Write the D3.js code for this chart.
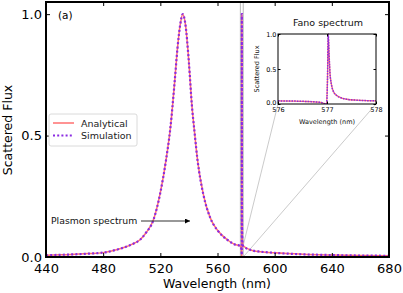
<!DOCTYPE html>
<html>
<head>
<meta charset="utf-8">
<script src="https://cdn.jsdelivr.net/npm/d3@7"></script>
<style>
  body { margin: 0; background: #fff; }
  text { font-family: "DejaVu Sans", sans-serif; }
</style>
</head>
<body>
<svg id="chart" width="403" height="293"></svg>
<script>
// plasmon spectrum (broad peak)
const plasmonNm = [440, 450, 460, 470, 480, 490, 495, 500, 506, 510, 515, 520, 524, 527, 530, 532, 534, 535.7, 537.5, 540, 542, 544, 546, 550, 555, 560, 567, 572, 576, 585, 590, 600, 620, 640, 660, 680];
const plasmonFlux = [0.007, 0.009, 0.011, 0.014, 0.018, 0.031, 0.040, 0.052, 0.072, 0.100, 0.150, 0.265, 0.400, 0.530, 0.720, 0.860, 0.960, 1.000, 0.960, 0.800, 0.630, 0.510, 0.400, 0.260, 0.160, 0.110, 0.070, 0.052, 0.043, 0.026, 0.022, 0.017, 0.011, 0.008, 0.006, 0.005];

// fano resonance around 577 nm (inset)
const fanoNm = [576.0, 576.3, 576.6, 576.8, 576.9, 576.96, 576.99, 577.01, 577.025, 577.04, 577.06, 577.09, 577.13, 577.2, 577.3, 577.4, 577.6, 577.8, 578.0];
const fanoFlux = [0.045, 0.042, 0.036, 0.028, 0.018, 0.003, 0.0, 0.35, 1.0, 0.75, 0.45, 0.28, 0.18, 0.12, 0.085, 0.068, 0.055, 0.048, 0.045];

const xTicks = [440, 480, 520, 560, 600, 640, 680];
const yTicks = [0, 0.5, 1.0];
const insetXTicks = [576, 577, 578];
const insetYTicks = [0, 0.5, 1.0];
const seriesNames = ["Analytical", "Simulation"];

const redCol = "#ff6f6f", purpleCol = "#8a2be2";

const svg = d3.select("#chart");

// main axes
const L = 46, R = 389, T = 2, B = 257;
const x = d3.scaleLinear().domain([440, 680]).range([L, R]);
const y = d3.scaleLinear().domain([0, 1.05]).range([B, T]);

// combined spectrum = plasmon outside the zoom window + fano inside
let mainData = plasmonNm.map((d, i) => [d, plasmonFlux[i]]).filter(d => d[0] < 576 || d[0] > 578);
mainData = mainData.concat(fanoNm.map((d, i) => [d, fanoFlux[i]]));
mainData.sort((a, b) => a[0] - b[0]);

svg.append("defs").append("clipPath").attr("id", "mainClip")
  .append("rect").attr("x", L).attr("y", T).attr("width", R - L).attr("height", B - T);

// zoom indicator rectangle + connector lines
svg.append("rect")
  .attr("x", x(576)).attr("y", y(1.05))
  .attr("width", x(578) - x(576)).attr("height", y(0) - y(1.05))
  .attr("fill", "none").attr("stroke", "#b8b8b8").attr("stroke-width", 1);

const inL = 278, inR = 376, inT = 34, inB = 104;

svg.append("line").attr("x1", inL).attr("y1", inB).attr("x2", x(576)).attr("y2", y(0))
  .attr("stroke", "#bdbdbd").attr("stroke-width", 0.8);
svg.append("line").attr("x1", inR).attr("y1", inB).attr("x2", x(578)).attr("y2", y(0))
  .attr("stroke", "#bdbdbd").attr("stroke-width", 0.8);

const line = d3.line().x(d => x(d[0])).y(d => y(d[1])).curve(d3.curveMonotoneX);

const plotG = svg.append("g").attr("clip-path", "url(#mainClip)");
plotG.append("path").datum(mainData).attr("d", line)
  .attr("fill", "none").attr("stroke", redCol).attr("stroke-width", 1.5);
plotG.append("path").datum(mainData).attr("d", line)
  .attr("fill", "none").attr("stroke", purpleCol).attr("stroke-width", 2.2)
  .attr("stroke-dasharray", "2,2.2");

// axes, ticks inward on all sides
const fs = 13;
svg.append("g").attr("transform", `translate(0,${B})`)
  .call(d3.axisBottom(x).tickValues(xTicks).tickSize(-4).tickPadding(7).tickFormat(d3.format("d")))
  .call(g => g.select(".domain").remove())
  .call(g => g.selectAll("text").attr("font-size", fs).attr("fill", "#000").attr("font-family", "DejaVu Sans"));
svg.append("g").attr("transform", `translate(0,${T})`)
  .call(d3.axisTop(x).tickValues(xTicks).tickSize(-4).tickFormat(""))
  .call(g => g.select(".domain").remove());
svg.append("g").attr("transform", `translate(${L},0)`)
  .call(d3.axisLeft(y).tickValues(yTicks).tickSize(-4).tickPadding(4).tickFormat(d3.format(".1f")))
  .call(g => g.select(".domain").remove())
  .call(g => g.selectAll("text").attr("font-size", fs).attr("fill", "#000").attr("font-family", "DejaVu Sans"));
svg.append("g").attr("transform", `translate(${R},0)`)
  .call(d3.axisRight(y).tickValues(yTicks).tickSize(-4).tickFormat(""))
  .call(g => g.select(".domain").remove());

svg.append("rect").attr("x", L).attr("y", T).attr("width", R - L).attr("height", B - T)
  .attr("fill", "none").attr("stroke", "#000").attr("stroke-width", 2);

svg.append("text").attr("x", (L + R) / 2 - 0.5).attr("y", 288).attr("text-anchor", "middle")
  .attr("font-size", 12.5).text("Wavelength (nm)");
svg.append("text").attr("transform", `translate(12,130) rotate(-90)`).attr("text-anchor", "middle")
  .attr("font-size", 12.5).text("Scattered Flux");

svg.append("text").attr("x", 58).attr("y", 19).attr("font-size", 10.5).text("(a)");

// legend
const leg = svg.append("g");
leg.append("rect").attr("x", 49).attr("y", 114).attr("width", 88).attr("height", 32).attr("rx", 2)
  .attr("fill", "#fff").attr("stroke", "#d0d0d0").attr("stroke-width", 0.8);
seriesNames.forEach((name, i) => {
  const ly = 123 + i * 12.5;
  leg.append("line").attr("x1", 53).attr("x2", 74).attr("y1", ly).attr("y2", ly)
    .attr("stroke", i === 0 ? redCol : purpleCol)
    .attr("stroke-width", i === 0 ? 1.5 : 2.2)
    .attr("stroke-dasharray", i === 0 ? null : "2,2.2");
  leg.append("text").attr("x", 81).attr("y", ly + 3.5).attr("font-size", 9.5).attr("fill", "#222").text(name);
});

// plasmon annotation with arrow
svg.append("defs").append("marker").attr("id", "arr")
  .attr("viewBox", "0 0 10 10").attr("refX", 10).attr("refY", 5)
  .attr("markerWidth", 10).attr("markerHeight", 5).attr("markerUnits", "userSpaceOnUse")
  .attr("orient", "auto")
  .append("path").attr("d", "M0,0L10,5L0,10Z").attr("fill", "#000");
svg.append("text").attr("x", 51).attr("y", 224).attr("font-size", 9.3).attr("fill", "#111").text("Plasmon spectrum");
svg.append("line").attr("x1", 141).attr("y1", 221).attr("x2", 190).attr("y2", 221)
  .attr("stroke", "#333").attr("stroke-width", 1.2).attr("marker-end", "url(#arr)");

// inset
const xi = d3.scaleLinear().domain([576, 578]).range([inL, inR]);
const yi = d3.scaleLinear().domain([0, 1.0]).range([inB, inT]);
const inset = svg.append("g");
inset.append("rect").attr("x", inL).attr("y", inT).attr("width", inR - inL).attr("height", inB - inT)
  .attr("fill", "#fff");
svg.select("defs").append("clipPath").attr("id", "insetClip")
  .append("rect").attr("x", inL).attr("y", inT - 1).attr("width", inR - inL).attr("height", inB - inT + 1);

const fanoData = fanoNm.map((d, i) => [d, fanoFlux[i]]);
const iline = d3.line().x(d => xi(d[0])).y(d => yi(d[1])).curve(d3.curveMonotoneX);
const ig = inset.append("g").attr("clip-path", "url(#insetClip)");
ig.append("path").datum(fanoData).attr("d", iline)
  .attr("fill", "none").attr("stroke", redCol).attr("stroke-width", 1.3);
ig.append("path").datum(fanoData).attr("d", iline)
  .attr("fill", "none").attr("stroke", purpleCol).attr("stroke-width", 1.5)
  .attr("stroke-dasharray", "1.5,1.2");

const ifs = 6.5;
inset.append("g").attr("transform", `translate(0,${inB})`)
  .call(d3.axisBottom(xi).tickValues(insetXTicks).tickSize(-2.5).tickPadding(3.5).tickFormat(d3.format("d")))
  .call(g => g.select(".domain").remove())
  .call(g => g.selectAll("text").attr("font-size", ifs).attr("fill", "#000").attr("font-family", "DejaVu Sans"));
inset.append("g").attr("transform", `translate(0,${inT})`)
  .call(d3.axisTop(xi).tickValues(insetXTicks).tickSize(-2.5).tickFormat(""))
  .call(g => g.select(".domain").remove());
inset.append("g").attr("transform", `translate(${inL},0)`)
  .call(d3.axisLeft(yi).tickValues(insetYTicks).tickSize(-2.5).tickPadding(1.5).tickFormat(d3.format(".1f")))
  .call(g => g.select(".domain").remove())
  .call(g => g.selectAll("text").attr("font-size", ifs).attr("fill", "#000").attr("font-family", "DejaVu Sans"))
  .call(g => g.selectAll(".tick text").filter(d => d === 0).attr("dy", "0.1em"));
inset.append("g").attr("transform", `translate(${inR},0)`)
  .call(d3.axisRight(yi).tickValues(insetYTicks).tickSize(-2.5).tickFormat(""))
  .call(g => g.select(".domain").remove());
inset.append("rect").attr("x", inL).attr("y", inT).attr("width", inR - inL).attr("height", inB - inT)
  .attr("fill", "none").attr("stroke", "#000").attr("stroke-width", 1);

inset.append("text").attr("x", (inL + inR) / 2 + 1).attr("y", 26).attr("text-anchor", "middle")
  .attr("font-size", 9.5).attr("fill", "#111").text("Fano spectrum");
inset.append("text").attr("x", (inL + inR) / 2).attr("y", 124).attr("text-anchor", "middle")
  .attr("font-size", ifs).attr("fill", "#111").text("Wavelength (nm)");
inset.append("text").attr("transform", `translate(259,69) rotate(-90)`).attr("text-anchor", "middle")
  .attr("font-size", ifs).attr("fill", "#111").text("Scattered Flux");
</script>
</body>
</html>
